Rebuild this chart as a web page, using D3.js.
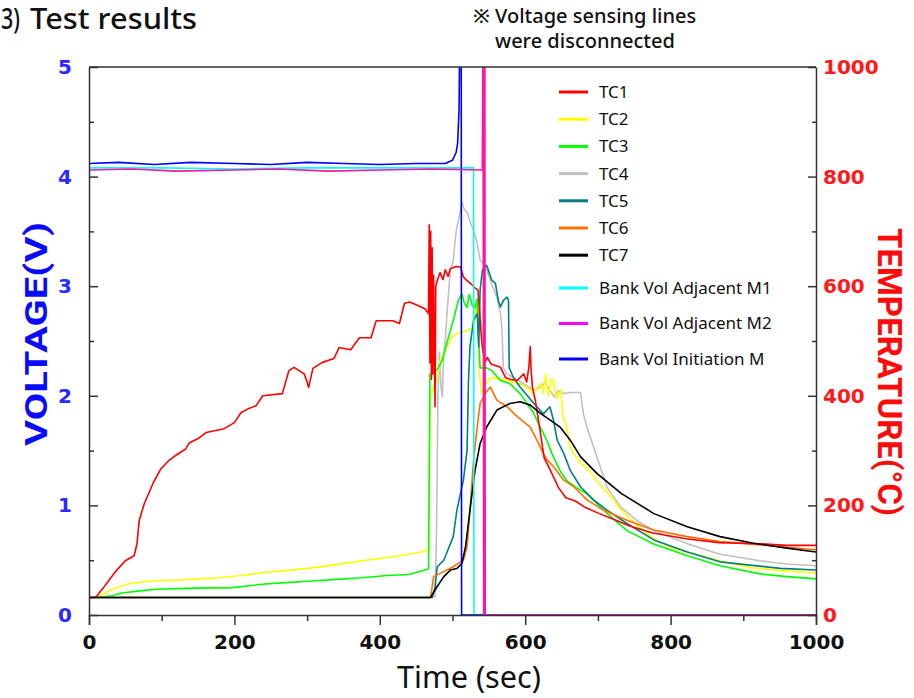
<!DOCTYPE html>
<head>
<meta charset="utf-8">
<style>
  body { margin: 0; background: #fff; }
  svg { display: block; }
  .series { fill: none; stroke-width: 1.6; stroke-linejoin: round; }
  .axis path, .axis line { stroke: #333; stroke-width: 1.5; }
  .axis text { font-family: "DejaVu Sans", Verdana, sans-serif; font-weight: bold; font-size: 20px; }
  .lab { font-family: "Noto Sans", "Open Sans", sans-serif; fill: #111; }
</style>
</head>
<body>
<svg width="914" height="698"></svg>
<script src="https://d3js.org/d3.v7.min.js"></script>
<script>
// thermocouple readings, [time (s), temperature (degC)]
var tc1 = [[0,32],[8,32],[11,35],[20,50],[30,68],[37,80],[50,99],[62,108],[66,130],[69,172],[76,203],[88,240],[99,267],[110,282],[119,291],[133,303],[138,314],[150,322],[161,333],[186,340],[200,351],[209,369],[220,377],[230,382],[239,400],[266,404],[275,446],[282,452],[296,440],[300,425],[302,415],[308,450],[321,461],[337,468],[344,488],[360,484],[372,506],[388,506],[395,537],[418,537],[427,532],[434,569],[441,571],[450,566],[457,562],[463,558],[467,550],[468,712],[469,460],[470,700],[471,430],[472,670],[473,440],[474,620],[476,380],[477,600],[479,610],[483,625],[487,612],[490,630],[494,618],[497,632],[505,636],[511,635],[515,617],[520,610],[525,605],[530,598],[535,593],[537,560],[539,520],[541,488],[545,462],[548,470],[553,458],[560,455],[566,452],[573,433],[580,430],[589,428],[598,440],[602,425],[605,452],[607,490],[608,450],[610,415],[614,391],[619,349],[626,287],[635,263],[646,232],[656,214],[669,208],[683,196],[702,185],[719,176],[743,163],[774,150],[821,139],[867,132],[922,130],[960,127],[1000,127]];
var tc2 = [[0,32],[10,33],[20,38],[32,47],[45,53],[55,57],[78,61],[100,63],[124,64],[150,66],[179,68],[210,72],[238,77],[270,81],[307,86],[340,92],[376,99],[410,105],[440,111],[460,116],[467,120],[468,300],[470,400],[474,417],[479,428],[483,465],[492,488],[499,506],[506,514],[513,516],[520,519],[527,523],[531,537],[533,565],[535,574],[536,500],[537,440],[540,405],[545,420],[550,430],[556,434],[566,430],[575,428],[593,422],[605,412],[611,404],[616,415],[621,422],[625,405],[628,440],[632,400],[636,430],[639,428],[643,395],[649,411],[652,362],[656,349],[662,306],[669,290],[678,275],[688,263],[702,239],[715,221],[729,196],[752,166],[774,141],[802,122],[835,111],[867,99],[912,86],[960,80],[1000,77]];
var tc3 = [[0,32],[20,33],[32,35],[45,40],[70,44],[92,47],[150,49],[197,50],[238,56],[270,59],[307,62],[340,65],[376,68],[410,72],[440,74],[467,84],[468,250],[469,440],[474,442],[480,450],[486,465],[493,500],[501,537],[508,574],[513,586],[516,570],[520,561],[523,585],[527,565],[531,560],[534,577],[536,500],[538,451],[547,451],[554,446],[566,428],[579,422],[593,404],[611,370],[621,342],[630,318],[637,294],[648,263],[657,245],[671,232],[685,221],[713,185],[740,154],[776,130],[823,108],[868,90],[923,75],[960,70],[1000,66]];
var tc4 = [[0,32],[470,32],[476,34],[478,150],[480,400],[482,480],[484,420],[486,398],[488,477],[490,500],[493,560],[497,629],[501,647],[505,700],[511,738],[513,754],[516,740],[520,735],[525,715],[529,702],[534,678],[538,647],[543,640],[547,629],[552,611],[561,580],[566,550],[568,520],[570,451],[575,440],[584,433],[598,422],[612,410],[620,415],[628,425],[634,410],[640,398],[646,410],[653,404],[662,406],[676,406],[680,367],[685,342],[699,287],[713,232],[732,196],[754,172],[777,154],[823,130],[868,111],[923,99],[960,93],[1000,90]];
var tc5 = [[0,32],[472,32],[476,50],[479,88],[488,100],[501,143],[506,191],[515,246],[520,300],[522,428],[524,489],[529,538],[534,550],[536,489],[538,593],[541,629],[547,638],[554,611],[559,605],[563,574],[566,562],[570,574],[575,580],[577,574],[578,451],[584,433],[593,416],[612,386],[625,367],[634,380],[639,355],[644,319],[653,295],[662,264],[676,234],[694,210],[713,191],[740,167],[777,137],[823,115],[868,97],[951,85],[1000,82]];
var tc6 = [[0,32],[470,32],[474,70],[483,76],[501,88],[515,100],[520,125],[524,191],[529,283],[534,343],[538,386],[545,404],[552,416],[561,392],[575,380],[589,362],[607,343],[616,319],[625,295],[630,283],[639,271],[653,246],[667,234],[685,210],[708,191],[740,173],[777,155],[823,143],[868,134],[923,128],[1000,119]];
var tc7 = [[0,32],[470,32],[472,37],[479,52],[488,70],[497,82],[506,85],[513,94],[518,125],[524,191],[531,264],[538,313],[547,343],[561,374],[579,386],[593,389],[607,383],[621,368],[634,356],[648,343],[662,319],[676,289],[699,258],[732,222],[777,185],[823,161],[868,143],[914,131],[960,122],[1000,115]];
// bank voltages, [time (s), volts]
var volM1 = [[0,4.08],[100,4.08],[200,4.07],[300,4.08],[400,4.08],[529,4.08],[529.5,0],[1000,0]];
var volM2 = [[0,4.06],[60,4.07],[120,4.05],[200,4.06],[260,4.07],[330,4.05],[400,4.06],[470,4.07],[541,4.06],[542,5.3],[543,0],[543.5,5.3],[544,0],[544.5,5.3],[545,0],[1000,0]];
var volInit = [[0,4.12],[40,4.13],[90,4.11],[140,4.13],[200,4.12],[250,4.11],[300,4.13],[350,4.12],[400,4.11],[450,4.12],[490,4.12],[500,4.15],[505,4.22],[507,4.3],[509,4.6],[510,5.3],[512,5.3],[512.5,0],[1000,0]];

var legendNames = ["TC1","TC2","TC3","TC4","TC5","TC6","TC7","Bank Vol Adjacent M1","Bank Vol Adjacent M2","Bank Vol Initiation M"];
var legendColors = ["#ff0000","#ffff00","#00ff00","#c0c0c0","#008080","#ff7000","#000000","#00ffff","#ff00ff","#0000ff"];

var xTicks = d3.range(0, 1001, 100);
var vTicks = d3.range(0, 5.01, 0.5);
var tTicks = d3.range(0, 1001, 100);

var margin = {top: 67, right: 98, bottom: 83, left: 89},
    width = 914 - margin.left - margin.right,
    height = 698 - margin.top - margin.bottom;

var x = d3.scaleLinear().domain([0, 1000]).range([0, width]);
var yV = d3.scaleLinear().domain([0, 5]).range([height, 0]);
var yT = d3.scaleLinear().domain([0, 1000]).range([height, 0]);

var svg = d3.select("svg");
var g = svg.append("g").attr("transform", "translate(" + margin.left + "," + margin.top + ")");

g.append("clipPath").attr("id", "clip")
  .append("rect").attr("x", 0).attr("y", 0).attr("width", width).attr("height", height);

var lineT = d3.line().x(function(d) { return x(d[0]); }).y(function(d) { return yT(d[1]); });
var lineV = d3.line().x(function(d) { return x(d[0]); }).y(function(d) { return yV(d[1]); });

var plot = g.append("g").attr("clip-path", "url(#clip)");
var tcs = [[tc4, "#c0c0c0"], [tc2, "#ffff00"], [tc3, "#00ff00"], [tc5, "#008080"], [tc6, "#ff7000"], [tc1, "#ff0000"], [tc7, "#000000"]];
tcs.forEach(function(s) {
  plot.append("path").attr("class", "series").attr("stroke", s[1]).attr("d", lineT(s[0]));
});
plot.append("path").attr("class", "series").attr("stroke", "#00ffff").attr("d", lineV(volM1));
plot.append("path").attr("class", "series").attr("stroke", "#0000ff").attr("d", lineV(volInit));
plot.append("path").attr("class", "series").attr("stroke", "#ff14a0").attr("d", lineV(volM2));

// frame top
g.append("line").attr("x1", 0).attr("x2", width).attr("y1", 0).attr("y2", 0)
  .attr("stroke", "#333").attr("stroke-width", 1.5);

// bottom axis
var xa = g.append("g").attr("class", "axis").attr("transform", "translate(0," + height + ")")
  .call(d3.axisBottom(x).tickValues(xTicks).tickSizeOuter(0).tickSize(10).tickPadding(10)
    .tickFormat(function(d) { return d % 200 === 0 ? d : ""; }));
xa.selectAll(".tick line").attr("y2", function(d) { return d % 200 === 0 ? 10 : 6; });
xa.selectAll("text").attr("fill", "#111");

// left axis (voltage)
var ya = g.append("g").attr("class", "axis")
  .call(d3.axisLeft(yV).tickValues(vTicks).tickSizeOuter(0).tickSizeInner(-9).tickPadding(17)
    .tickFormat(function(d) { return d % 1 === 0 ? d : ""; }));
ya.selectAll(".tick line").attr("x2", function(d) { return d % 1 === 0 ? 9 : 5; });
ya.selectAll("text").attr("fill", "#2a2aff");

// right axis (temperature)
var ta = g.append("g").attr("class", "axis").attr("transform", "translate(" + width + ",0)")
  .call(d3.axisRight(yT).tickValues(tTicks).tickSizeOuter(0).tickSizeInner(-8).tickPadding(7)
    .tickFormat(function(d) { return d % 200 === 0 ? d : ""; }));
ta.selectAll(".tick line").attr("x2", function(d) { return d % 200 === 0 ? -8 : -4; });
ta.selectAll("text").attr("fill", "#ff1a1a");

// axis titles
svg.append("text")
  .attr("transform", "translate(47,334) rotate(-90)")
  .attr("text-anchor", "middle")
  .attr("textLength", 224).attr("lengthAdjust", "spacingAndGlyphs")
  .style("font-family", "Roboto, sans-serif").style("font-weight", "bold").style("font-size", "31px")
  .attr("fill", "#0a0aff").text("VOLTAGE(V)");
svg.append("text")
  .attr("transform", "translate(878,372) rotate(90)")
  .attr("text-anchor", "middle")
  .attr("textLength", 288).attr("lengthAdjust", "spacingAndGlyphs")
  .style("font-family", "Roboto, sans-serif").style("font-weight", "bold").style("font-size", "33px")
  .attr("fill", "#ff0a0a").text("TEMPERATURE(°C)");
svg.append("text").attr("class", "lab")
  .attr("x", 469).attr("y", 688).attr("text-anchor", "middle")
  .attr("textLength", 144).attr("lengthAdjust", "spacingAndGlyphs")
  .style("font-size", "31px").text("Time (sec)");

// title and note
svg.append("text").attr("class", "lab").attr("x", 1).attr("y", 29)
  .attr("textLength", 19).attr("lengthAdjust", "spacingAndGlyphs")
  .style("font-size", "28px").style("font-weight", 500).text("3)");
svg.append("text").attr("class", "lab").attr("x", 30).attr("y", 29)
  .attr("textLength", 167).attr("lengthAdjust", "spacingAndGlyphs")
  .style("font-size", "29px").style("font-weight", 500).text("Test results");
svg.append("text").attr("class", "lab").attr("x", 473).attr("y", 23)
  .style("font-size", "20px").style("font-weight", 500).text("※ Voltage sensing lines");
svg.append("text").attr("class", "lab").attr("x", 495).attr("y", 48)
  .style("font-size", "20px").style("font-weight", 500).text("were disconnected");

// legend
var legend = svg.append("g");
legendNames.forEach(function(name, i) {
  var ly = i < 7 ? 92 + i * 27.2 : 288 + (i - 7) * 35.5;
  legend.append("line").attr("x1", 559).attr("x2", 588).attr("y1", ly).attr("y2", ly)
    .attr("stroke", legendColors[i]).attr("stroke-width", 3);
  legend.append("text").attr("class", "lab").attr("x", 599).attr("y", ly).attr("dy", "0.35em")
    .style("font-size", "17px").text(name);
});
</script>
</body>
</html>
